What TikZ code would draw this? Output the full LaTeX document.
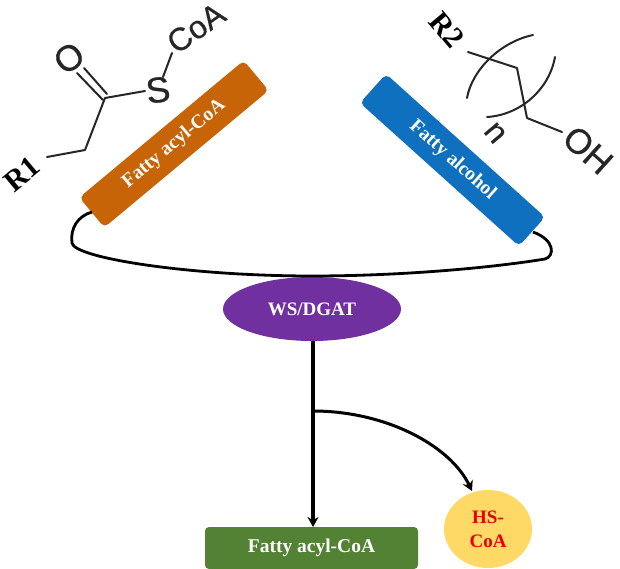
\documentclass[tikz,border=0pt]{standalone}
\usepackage{fontspec}
\setmainfont{Liberation Serif}
\newfontfamily\chemfont[FakeBold=0.6]{Liberation Sans}
\usetikzlibrary{arrows.meta,shapes.geometric}
\definecolor{barorange}{HTML}{C86408}
\definecolor{barblue}{HTML}{0F70BF}
\definecolor{enzpurple}{HTML}{7030A0}
\definecolor{prodgreen}{HTML}{548235}
\definecolor{coayellow}{HTML}{FFD966}
\definecolor{bond}{HTML}{262626}
\tikzset{
  x=1pt,y=-1pt,
  barbox/.style={rectangle,rounded corners=5pt,minimum width=214pt,minimum height=39pt,inner sep=0pt,text=white,font=\bfseries\fontsize{19.5}{22}\selectfont},
  bondline/.style={draw=bond,line width=2pt,line cap=round,line join=round},
  chem/.style={inner sep=0pt,text=bond,font=\chemfont\fontsize{#1}{#1}\selectfont},
  rlabel/.style={inner sep=0pt,text=black,font=\bfseries\fontsize{30}{30}\selectfont},
  conn/.style={draw=black,line width=#1},
  conn/.default=2.8pt,
  tip/.style={-{Stealth[length=10pt,width=11pt]}}
}
\begin{document}
\begin{tikzpicture}
\useasboundingbox (0,0) rectangle (620,568);
% bars
\node[barbox,fill=barorange,rotate=39.8] (acyl) at (174,144) {Fatty acyl-CoA};
\node[barbox,fill=barblue,rotate=-42] (alcohol) at (452.5,160) {Fatty alcohol};
% enzyme and products
\node[ellipse,fill=enzpurple,minimum width=178pt,minimum height=64pt,inner sep=0pt,text=white,font=\bfseries\fontsize{19}{22}\selectfont] (ws) at (312,309) {WS/DGAT};
\node[rectangle,rounded corners=4pt,fill=prodgreen,minimum width=213pt,minimum height=42pt,inner sep=0pt,text=white,font=\bfseries\fontsize{19.5}{22}\selectfont] (prod) at (311.5,548) {Fatty acyl-CoA};
\node[ellipse,fill=coayellow,minimum width=88pt,minimum height=78pt,inner sep=0pt,text=red!90!black,align=center,font=\bfseries\fontsize{19}{24}\selectfont] (hs) at (488,529) {HS-\\CoA};
% tether
\coordinate (tl) at (92,212);
\coordinate (tr) at (533,232);
\coordinate (tm) at (312,276);
\draw[conn] (tl) .. controls (78,216) and (70,228) .. (72,243)
  .. controls (74,258) and (190,276) .. (tm)
  .. controls (400,276) and (490,268) .. (545,259)
  .. controls (555,256) and (555,240) .. (tr);
% arrows
\coordinate (wsb) at (313,341);
\coordinate (prt) at (313,527);
\coordinate (br) at (313,411);
\coordinate (hst) at (472,491);
\draw[conn=3.2pt,tip] (wsb) -- (prt);
\draw[conn=3pt,tip] (br) .. controls (385,411) and (450,445) .. (hst);
% left molecule
\node[rlabel,rotate=40] (r1) at (22,174) {R1};
\coordinate (a0) at (47,157);
\coordinate (a1) at (85,150);
\coordinate (a2) at (105,98);
\node[chem=36,rotate=8] (s) at (158,90) {S};
\node[chem=36,rotate=35] (o) at (69,58) {O};
\node[chem=32,rotate=35] (coa) at (196,28) {CoA};
\coordinate (s1) at (145,91);
\coordinate (s2) at (163,77);
\coordinate (s3) at (172,53);
\coordinate (d1a) at (103,100);
\coordinate (d1b) at (77,73);
\coordinate (d2a) at (107,94);
\coordinate (d2b) at (84,68);
\draw[bondline] (a0) -- (a1) -- (a2) -- (s1);
\draw[bondline] (d1a) -- (d1b);
\draw[bondline] (d2a) -- (d2b);
\draw[bondline] (s2) -- (s3);
% right molecule
\node[rlabel,rotate=-50] (r2) at (447,30) {R2};
\coordinate (b0) at (468,52);
\coordinate (b1) at (517,68);
\coordinate (b2) at (527,118);
\coordinate (b3) at (562,132);
\node[chem=35,rotate=-42] (oh) at (588,150) {OH};
\node[chem=32,rotate=-50] (n) at (495,133) {n};
\coordinate (c1a) at (533,35);
\coordinate (c1b) at (467,98);
\coordinate (c2a) at (555,57);
\coordinate (c2b) at (487,117);
\draw[bondline] (b0) -- (b1) -- (b2) -- (b3);
\draw[bondline] (c1a) .. controls (500,42) and (472,70) .. (c1b);
\draw[bondline] (c2a) .. controls (549,90) and (520,115) .. (c2b);
\end{tikzpicture}
\end{document}
